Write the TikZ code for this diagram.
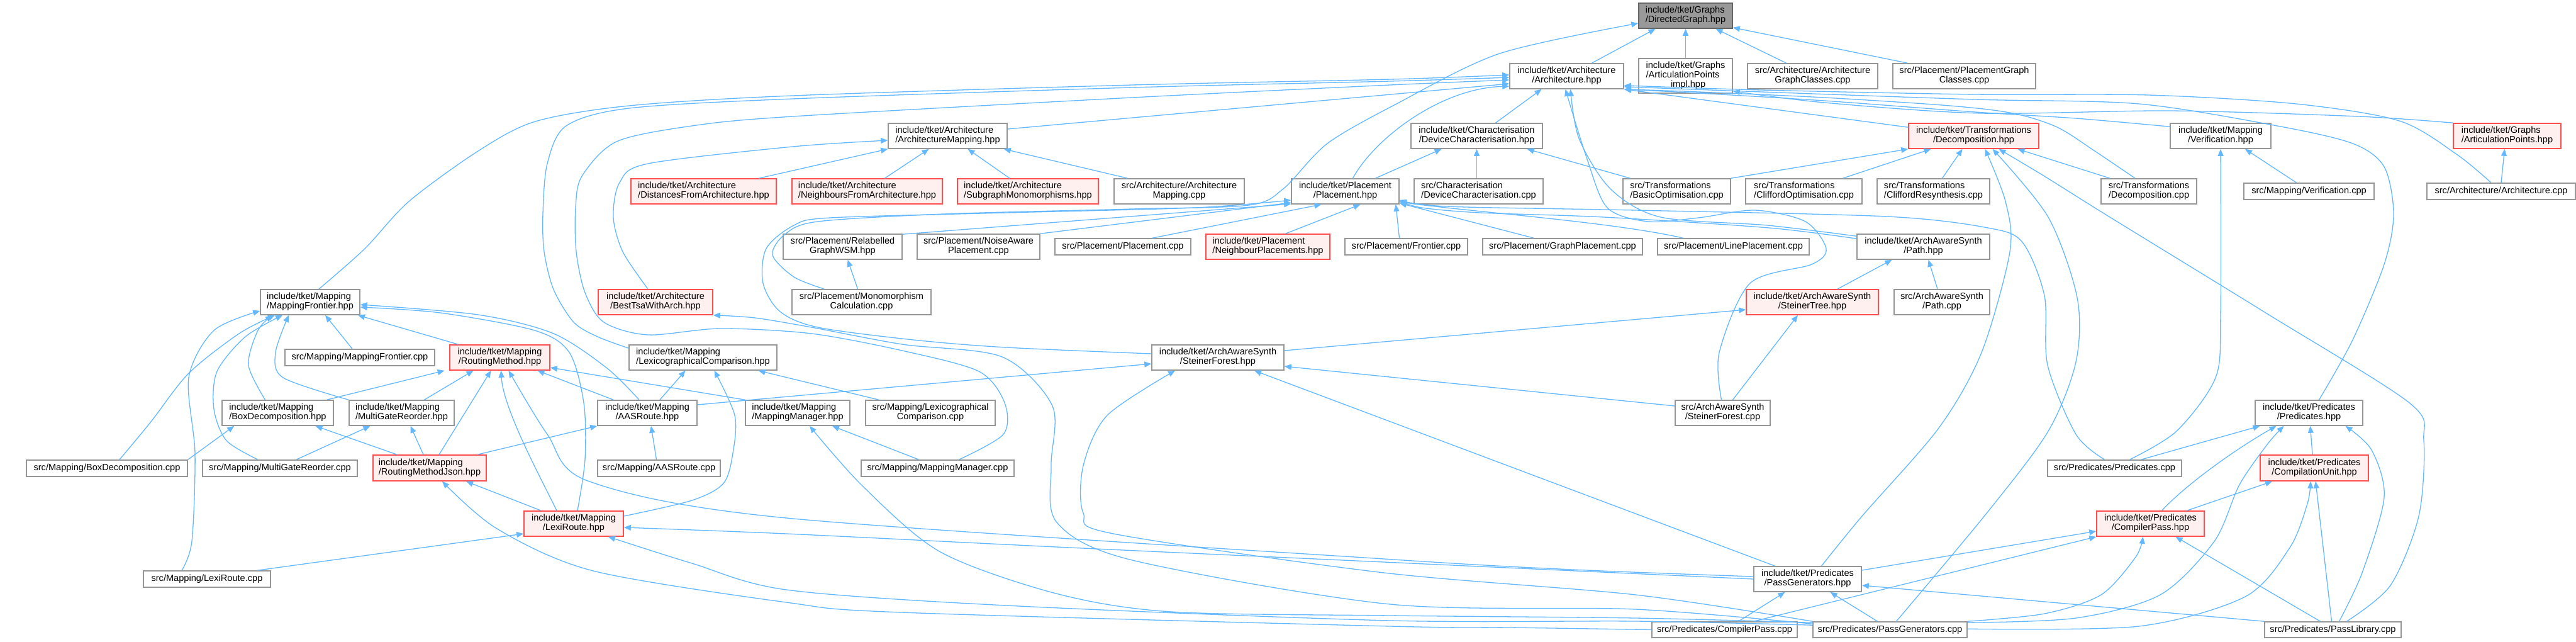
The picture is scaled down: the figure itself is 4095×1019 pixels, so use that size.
\documentclass[tikz,border=0pt]{standalone}
\usepackage{fontspec}
\setmainfont{Liberation Sans}
\usetikzlibrary{arrows.meta}
\definecolor{edgeblue}{RGB}{99,184,255}
\definecolor{nodegray}{RGB}{150,150,150}
\definecolor{nodered}{RGB}{255,76,76}
\definecolor{nodepink}{RGB}{255,240,240}
\definecolor{rootfill}{RGB}{153,153,153}
\definecolor{rootborder}{RGB}{102,102,102}
\newcommand\twol[2]{\begin{tabular}{@{}l@{}}#1\\\multicolumn{1}{@{}c@{}}{#2}\end{tabular}}
\newcommand\threel[3]{\begin{tabular}{@{}l@{}}#1\\#2\\\multicolumn{1}{@{}c@{}}{#3}\end{tabular}}
\newcommand\nodebox[7]{\node[#2, minimum width={(#5-#3)*0.5pt}, minimum height={(#6-#4)*0.5pt}] (#1) at ({(#3+#5)/2},{(#4+#6)/2}) {#7};}
\tikzset{
  nb/.style={draw=nodegray, line width=0.8pt, fill=white, inner sep=0pt, font=\fontsize{7.3}{7.35}\selectfont, text=black},
  nr/.style={nb, draw=nodered, fill=nodepink},
  nroot/.style={nb, draw=rootborder, fill=rootfill},
  edg/.style={draw=edgeblue, line width=0.65pt, -{Triangle[length=5.5pt,width=4.5pt]}},
}
\begin{document}
\begin{tikzpicture}[x=0.5pt,y=-0.5pt]
\fill[white] (0,0) rectangle (4095,1019);
\useasboundingbox (0,0) rectangle (4095,1019);
% ---------- nodes ----------
\nodebox{DG}{nroot}{2605}{5}{2754}{45}{\twol{include/tket/Graphs}{/DirectedGraph.hpp}}
\nodebox{Arch}{nb}{2400}{101}{2581}{141}{\twol{include/tket/Architecture}{/Architecture.hpp}}
\nodebox{APimpl}{nb}{2605}{93}{2754}{148}{\threel{include/tket/Graphs}{/ArticulationPoints}{\_impl.hpp}}
\nodebox{AGC}{nb}{2778}{101}{2985}{141}{\twol{src/Architecture/Architecture}{GraphClasses.cpp}}
\nodebox{PGC}{nb}{3009}{101}{3236}{141}{\twol{src/Placement/PlacementGraph}{Classes.cpp}}
\nodebox{ArchMap}{nb}{1412}{196}{1601}{236}{\twol{include/tket/Architecture}{/ArchitectureMapping.hpp}}
\nodebox{DevChar}{nb}{2243}{196}{2452}{236}{\twol{include/tket/Characterisation}{/DeviceCharacterisation.hpp}}
\nodebox{Decomp}{nr}{3034}{196}{3241}{236}{\twol{include/tket/Transformations}{/Decomposition.hpp}}
\nodebox{VerifH}{nb}{3450}{196}{3610}{236}{\twol{include/tket/Mapping}{/Verification.hpp}}
\nodebox{ArtP}{nr}{3900}{196}{4071}{236}{\twol{include/tket/Graphs}{/ArticulationPoints.hpp}}
\nodebox{Dist}{nr}{1003}{284}{1234}{324}{\twol{include/tket/Architecture}{/DistancesFromArchitecture.hpp}}
\nodebox{Neigh}{nr}{1259}{284}{1498}{324}{\twol{include/tket/Architecture}{/NeighboursFromArchitecture.hpp}}
\nodebox{Subg}{nr}{1522}{284}{1746}{324}{\twol{include/tket/Architecture}{/SubgraphMonomorphisms.hpp}}
\nodebox{ArchMapCpp}{nb}{1771}{284}{1978}{324}{\twol{src/Architecture/Architecture}{Mapping.cpp}}
\nodebox{Place}{nb}{2053}{284}{2224}{324}{\twol{include/tket/Placement}{/Placement.hpp}}
\nodebox{DevCharCpp}{nb}{2248}{284}{2453}{324}{\twol{src/Characterisation}{/DeviceCharacterisation.cpp}}
\nodebox{BasicOpt}{nb}{2580}{284}{2751}{324}{\twol{src/Transformations}{/BasicOptimisation.cpp}}
\nodebox{CliffOpt}{nb}{2775}{284}{2960}{324}{\twol{src/Transformations}{/CliffordOptimisation.cpp}}
\nodebox{CliffRes}{nb}{2984}{284}{3163}{324}{\twol{src/Transformations}{/CliffordResynthesis.cpp}}
\nodebox{DecompCpp}{nb}{3340}{284}{3492}{324}{\twol{src/Transformations}{/Decomposition.cpp}}
\nodebox{VerifCpp}{nb}{3567}{291}{3774}{317}{src/Mapping/Verification.cpp}
\nodebox{ArchCpp}{nb}{3858}{291}{4094}{317}{src/Architecture/Architecture.cpp}
\nodebox{Relab}{nb}{1245}{372}{1434}{412}{\twol{src/Placement/Relabelled}{GraphWSM.hpp}}
\nodebox{Noise}{nb}{1458}{372}{1653}{412}{\twol{src/Placement/NoiseAware}{Placement.cpp}}
\nodebox{PlaceCpp}{nb}{1677}{379}{1893}{405}{src/Placement/Placement.cpp}
\nodebox{NeighP}{nr}{1917}{372}{2114}{412}{\twol{include/tket/Placement}{/NeighbourPlacements.hpp}}
\nodebox{Frontier}{nb}{2138}{379}{2333}{405}{src/Placement/Frontier.cpp}
\nodebox{GraphP}{nb}{2357}{379}{2611}{405}{src/Placement/GraphPlacement.cpp}
\nodebox{LineP}{nb}{2635}{379}{2876}{405}{src/Placement/LinePlacement.cpp}
\nodebox{PathH}{nb}{2952}{372}{3163}{412}{\twol{include/tket/ArchAwareSynth}{/Path.hpp}}
\nodebox{MF}{nb}{414}{460}{572}{500}{\twol{include/tket/Mapping}{/MappingFrontier.hpp}}
\nodebox{BestTsa}{nr}{951}{460}{1133}{500}{\twol{include/tket/Architecture}{/BestTsaWithArch.hpp}}
\nodebox{Mono}{nb}{1259}{460}{1480}{500}{\twol{src/Placement/Monomorphism}{Calculation.cpp}}
\nodebox{STree}{nr}{2776}{460}{2986}{500}{\twol{include/tket/ArchAwareSynth}{/SteinerTree.hpp}}
\nodebox{PathCpp}{nb}{3011}{460}{3163}{500}{\twol{src/ArchAwareSynth}{/Path.cpp}}
\nodebox{MFCpp}{nb}{453}{555}{691}{581}{src/Mapping/MappingFrontier.cpp}
\nodebox{RM}{nr}{715}{548}{874}{588}{\twol{include/tket/Mapping}{/RoutingMethod.hpp}}
\nodebox{LexC}{nb}{1000}{548}{1235}{588}{\twol{include/tket/Mapping}{/LexicographicalComparison.hpp}}
\nodebox{SForest}{nb}{1831}{548}{2041}{588}{\twol{include/tket/ArchAwareSynth}{/SteinerForest.hpp}}
\nodebox{BoxD}{nb}{353}{636}{530}{676}{\twol{include/tket/Mapping}{/BoxDecomposition.hpp}}
\nodebox{MGR}{nb}{555}{636}{722}{676}{\twol{include/tket/Mapping}{/MultiGateReorder.hpp}}
\nodebox{AAS}{nb}{950}{636}{1108}{676}{\twol{include/tket/Mapping}{/AASRoute.hpp}}
\nodebox{MM}{nb}{1185}{636}{1351}{676}{\twol{include/tket/Mapping}{/MappingManager.hpp}}
\nodebox{LexCCpp}{nb}{1376}{636}{1582}{676}{\twol{src/Mapping/Lexicographical}{Comparison.cpp}}
\nodebox{SForestCpp}{nb}{2663}{636}{2814}{676}{\twol{src/ArchAwareSynth}{/SteinerForest.cpp}}
\nodebox{PredH}{nb}{3585}{636}{3756}{676}{\twol{include/tket/Predicates}{/Predicates.hpp}}
\nodebox{BoxDCpp}{nb}{42}{731}{298}{757}{src/Mapping/BoxDecomposition.cpp}
\nodebox{MGRCpp}{nb}{322}{731}{568}{757}{src/Mapping/MultiGateReorder.cpp}
\nodebox{RMJ}{nr}{593}{723}{773}{764}{\twol{include/tket/Mapping}{/RoutingMethodJson.hpp}}
\nodebox{AASCpp}{nb}{950}{731}{1145}{757}{src/Mapping/AASRoute.cpp}
\nodebox{MMCpp}{nb}{1369}{731}{1612}{757}{src/Mapping/MappingManager.cpp}
\nodebox{PredCpp}{nb}{3255}{731}{3468}{757}{src/Predicates/Predicates.cpp}
\nodebox{CU}{nr}{3593}{723}{3765}{764}{\twol{include/tket/Predicates}{/CompilationUnit.hpp}}
\nodebox{LR}{nr}{833}{812}{991}{852}{\twol{include/tket/Mapping}{/LexiRoute.hpp}}
\nodebox{CPH}{nr}{3333}{812}{3504}{852}{\twol{include/tket/Predicates}{/CompilerPass.hpp}}
\nodebox{PGH}{nb}{2788}{900}{2959}{940}{\twol{include/tket/Predicates}{/PassGenerators.hpp}}
\nodebox{LRCpp}{nb}{228}{907}{430}{933}{src/Mapping/LexiRoute.cpp}
\nodebox{CPCpp}{nb}{2626}{988}{2857}{1013}{src/Predicates/CompilerPass.cpp}
\nodebox{PGCpp}{nb}{2882}{988}{3127}{1013}{src/Predicates/PassGenerators.cpp}
\nodebox{PLCpp}{nb}{3600}{988}{3817}{1013}{src/Predicates/PassLibrary.cpp}
% ---------- edges: level 0/1 ----------
\draw[edg] ([xshift=20pt]Arch.north) -- ([xshift=-24pt]DG.south);
\draw[edg] (APimpl.north) -- (DG.south);
\draw[edg] ([xshift=-21pt]AGC.north) -- ([xshift=24pt]DG.south);
\draw[edg] ([xshift=12pt]PGC.north west) -- ([yshift=1pt]DG.south east);
\draw[edg] plot[smooth] coordinates {([xshift=26pt]Mono.north west) (1262,440) (1228,405) (1248,372) (1300,352) (1500,340) (1800,332) (1985,326) (2040,300) (2110,228) (2220,165) (2384,85) ([yshift=-6pt]DG.west)};
% into Architecture.hpp
\draw[edg] ([yshift=5.5pt]ArchMap.east) -- ([yshift=-6pt]Arch.west);
\draw[edg] ([xshift=15pt]DevChar.north) -- ([xshift=-20pt]Arch.south);
\draw[edg] ([yshift=-3.5pt]Decomp.north west) -- (Arch.south east);
\draw[edg] ([xshift=6pt]Place.north) .. controls (2185,220) and (2290,140) .. ([yshift=-8pt]Arch.west);
\draw[edg] plot[smooth] coordinates {([xshift=7pt]MF.north) (580,395) (650,320) (760,240) (851,193) (1000,168) (1260,152) (1800,135) (2210,126) ([yshift=1pt]Arch.west)};
\draw[edg] plot[smooth] coordinates {([yshift=-3pt]LexC.north west) (950,535) (912,512) (880,460) (865,400) (863,340) (870,260) (900,200) (1000,172) (1260,157) (1800,139) (2210,129) ([yshift=-1pt]Arch.west)};
\draw[edg] plot[smooth] coordinates {([xshift=17pt]MMCpp.north) (1595,690) (1597,640) (1556,590) (1434,557) (1290,530) (1145,522) (1030,532) (960,512) (930,465) (916,400) (915,330) (925,280) (980,225) (1100,200) (1260,185) (1800,155) (2210,135) ([yshift=-3pt]Arch.west)};
\draw[edg] plot[smooth] coordinates {([xshift=8pt]PredH.north) (3740,540) (3790,420) (3805,340) (3790,265) (3740,228) (3620,200) (3400,165) (3140,158) (2800,146) ([yshift=2pt]Arch.south east)};
\draw[edg] plot[smooth] coordinates {([xshift=-8pt]ArchCpp.north) (3905,245) (3814,192) (3650,165) (3415,151) (3140,150) (2800,143) ([yshift=3pt]Arch.south east)};
\draw[edg] plot[smooth] coordinates {([yshift=-3pt]VerifH.north west) (3300,188) (3140,178) (2900,160) (2700,148) (Arch.south east)};
\draw[edg] plot[smooth] coordinates {([xshift=-11pt]DecompCpp.north) (3330,240) (3270,202) (3200,180) (3100,168) (2900,155) (2700,146) (Arch.south east)};
\draw[edg] plot[smooth] coordinates {([yshift=-2pt]PathH.north west) (2810,358) (2640,345) (2560,300) (2510,220) ([xshift=3pt]Arch.south)};
\draw[edg] plot[smooth] coordinates {([xshift=-1pt]SForestCpp.north) (2733,560) (2782,450) (2880,420) (2903,395) (2870,352) (2790,334) (2700,346) (2620,352) (2555,330) (2522,250) ([xshift=-1pt]Arch.south)};
% ArticulationPoints
\draw[edg] plot[smooth] coordinates {(ArtP.north west) (3750,185) (3450,176) (3150,180) (2900,163) ([yshift=2pt]APimpl.south east)};
\draw[edg] (ArchCpp.north) -- ([xshift=-2pt]ArtP.south);
% ArchitectureMapping
\draw[edg] ([xshift=44pt]Dist.north) -- (ArchMap.south west);
\draw[edg] ([xshift=14pt]Neigh.north) -- ([xshift=-15pt]ArchMap.south);
\draw[edg] ([xshift=-14.5pt]Subg.north) -- ([xshift=16pt]ArchMap.south);
\draw[edg] ([xshift=-41pt]ArchMapCpp.north) -- ([xshift=-3pt]ArchMap.south east);
\draw[edg] plot[smooth] coordinates {([xshift=-6pt]BestTsa.north) (990,400) (975,345) (985,290) (1030,260) (1260,233) ([yshift=-3.5pt]ArchMap.west)};
% Device characterisation / Decomposition
\draw[edg] ([xshift=-1.5pt]DevCharCpp.north) -- (DevChar.south);
\draw[edg] ([xshift=-37pt]BasicOpt.north) -- ([xshift=40pt]DevChar.south);
\draw[edg] ([xshift=24pt]Place.north) -- ([xshift=-28pt]DevChar.south);
\draw[edg] (BasicOpt.north east) -- (Decomp.south west);
\draw[edg] ([xshift=31pt]CliffOpt.north) -- ([xshift=-34pt]Decomp.south);
\draw[edg] ([xshift=7pt]CliffRes.north) -- ([xshift=-9pt]Decomp.south);
\draw[edg] ([xshift=-31pt]DecompCpp.north) -- ([xshift=35pt]Decomp.south);
\draw[edg] ([xshift=-10pt]VerifCpp.north) -- ([xshift=19.5pt]VerifH.south);
% Placement
\draw[edg] ([yshift=-0.5pt]Relab.north east) -- ([yshift=-10pt]Place.west);
\draw[edg] (Noise.north east) -- ([yshift=-9pt]Place.west);
\draw[edg] ([xshift=23.5pt]PlaceCpp.north) -- ([xshift=-19pt]Place.south);
\draw[edg] ([xshift=14pt]NeighP.north) -- ([xshift=12pt]Place.south);
\draw[edg] ([xshift=-5.5pt]Frontier.north) -- ([xshift=-3pt]Place.south east);
\draw[edg] ([xshift=-23pt]GraphP.north) -- ([yshift=1pt]Place.south east);
\draw[edg] ([xshift=-40pt]LineP.north) .. controls (2560,352) and (2341,337) .. ([yshift=2pt]Place.south east);
\draw[edg] plot[smooth] coordinates {([yshift=-4pt]PathH.north west) (2812,362) (2550,345) (2353,338) (2260,330) ([yshift=3pt]Place.south east)};
\draw[edg] plot[smooth] coordinates {([xshift=-8pt]PredCpp.north) (3300,690) (3255,580) (3250,470) (3215,385) (3160,362) (3000,344) (2600,334) (2300,328) ([yshift=3.5pt]Place.south east)};
\draw[edg] plot[smooth] coordinates {([yshift=3pt]SForest.west) (1600,552) (1452,540) (1300,520) (1240,495) (1213,450) (1218,395) (1262,358) (1320,346) (1600,338) (1900,330) ([yshift=-7pt]Place.west)};
\draw[edg] ([xshift=-3pt]Mono.north) -- ([xshift=4pt]Relab.south);
% ArchAwareSynth
\draw[edg] ([xshift=20pt]STree.north) -- ([xshift=-25pt]PathH.south);
\draw[edg] ([xshift=-3.5pt]PathCpp.north) -- ([xshift=4pt]PathH.south);
\draw[edg] ([yshift=5.5pt]SForest.east) -- ([yshift=-6pt]STree.west);
\draw[edg] ([xshift=8pt]SForestCpp.north) -- ([xshift=-11.5pt]STree.south);
\draw[edg] ([yshift=5.5pt]SForestCpp.west) -- ([yshift=-7pt]SForest.east);
% Mapping
\draw[edg] ([xshift=-6pt]MFCpp.north) -- ([xshift=12pt]MF.south);
\draw[edg] ([xshift=-33pt]RM.north) -- ([xshift=38pt]MF.south);
\draw[edg] plot[smooth] coordinates {([xshift=-10pt]BoxD.north) (395,580) (410,525) ([xshift=-30pt]MF.south)};
\draw[edg] plot[smooth] coordinates {(MGR.north west) (450,600) (438,560) ([xshift=-17pt]MF.south)};
\draw[edg] plot[smooth] coordinates {([xshift=-6.5pt]AAS.north) (965,585) (880,530) (760,500) ([yshift=-2pt]MF.east)};
\draw[edg] plot[smooth] coordinates {([xshift=3pt]LR.north) (930,730) (928,640) (905,560) (850,525) (700,497) ([yshift=-4pt]MF.east)};
\draw[edg] plot[smooth] coordinates {([xshift=-17.5pt]MGRCpp.north) (360,700) (340,650) (345,590) (390,535) ([xshift=-22pt]MF.south)};
\draw[edg] plot[smooth] coordinates {([xshift=10pt]BoxDCpp.north) (240,670) (300,593) (380,530) ([xshift=-28pt]MF.south)};
\draw[edg] plot[smooth] coordinates {([xshift=-20pt]LRCpp.north) (305,860) (310,720) (300,600) (340,525) ([yshift=-7pt]MF.west)};
\draw[edg] ([xshift=39pt]BoxD.north) -- ([xshift=-44pt]RM.south);
\draw[edg] ([xshift=18pt]MGR.north) -- ([xshift=-21pt]RM.south);
\draw[edg] ([xshift=-27pt]AAS.north) -- ([xshift=30pt]RM.south);
\draw[edg] (MM.north west) -- ([yshift=-8pt]RM.east);
\draw[edg] ([xshift=10pt]AAS.north) -- ([xshift=-14pt]LexC.south);
\draw[edg] ([yshift=6.5pt]AAS.east) -- ([yshift=-5pt]SForest.west);
\draw[edg] ([xshift=-2pt]AASCpp.north) -- ([xshift=3pt]AAS.south);
\draw[edg] ([xshift=-15pt]MMCpp.north) -- ([xshift=27.5pt]MM.south);
\draw[edg] ([xshift=-41pt]LexCCpp.north) -- ([xshift=44pt]LexC.south);
\draw[edg] ([xshift=-26pt]RMJ.north) -- ([xshift=30pt]BoxD.south);
\draw[edg] ([xshift=-5pt]RMJ.north) -- ([xshift=7pt]MGR.south);
\draw[edg] ([xshift=7.5pt]RMJ.north) -- ([xshift=-7pt]RM.south);
\draw[edg] ([xshift=38pt]RMJ.north) -- (AAS.south west);
\draw[edg] ([xshift=13pt]MGRCpp.north) -- ([xshift=-25pt]MGR.south);
\draw[edg] (BoxDCpp.north east) -- ([xshift=10pt]BoxD.south west);
\draw[edg] ([xshift=-26pt]LR.north) -- ([xshift=29pt]RMJ.south);
\draw[edg] ([xshift=-13.5pt]LR.north) .. controls (860,760) and (800,650) .. ([xshift=1pt]RM.south);
\draw[edg] plot[smooth] coordinates {([yshift=6pt]LR.east) (1100,795) (1150,768) (1165,720) (1168,660) ([xshift=9pt]LexC.south)};
\draw[edg] ([xshift=40pt]LRCpp.north) -- ([yshift=-8pt]LR.west);
% Predicates
\draw[edg] ([xshift=-26pt]PGH.north) -- ([xshift=29pt]SForest.south);
\draw[edg] plot[smooth] coordinates {([xshift=11pt]PGH.north) (2960,820) (3082,680) (3150,560) (3195,400) (3188,320) ([xshift=9pt]Decomp.south)};
\draw[edg] plot[smooth] coordinates {([yshift=2pt]PGH.west) (2500,905) (2200,888) (1250,823) (937,765) (870,690) ([xshift=7pt]RM.south)};
\draw[edg] plot[smooth] coordinates {(PGH.west) (2200,893) (1700,870) (1250,848) ([yshift=-3pt]LR.east)};
\draw[edg] ([yshift=7pt]PGH.east) -- ([yshift=-6pt]CPH.west);
\draw[edg] ([xshift=11pt]CPCpp.north) -- ([xshift=-18pt]PGH.south);
\draw[edg] ([xshift=23pt]CPCpp.north) -- (CPH.south west);
\draw[edg] ([xshift=-10pt]PGCpp.north) -- ([xshift=18pt]PGH.south);
\draw[edg] (PLCpp.north west) -- ([yshift=-5pt]PGH.east);
\draw[edg] plot[smooth] coordinates {(CPCpp.west) (2400,997) (2210,995) (1434,973) (1250,957) (943,907) (790,840) ([xshift=10pt]RMJ.south)};
\draw[edg] plot[smooth] coordinates {(PGCpp.north west) (2600,945) (2200,910) (1770,848) (1722,815) (1722,740) (1760,660) ([xshift=-34pt]SForest.south)};
\draw[edg] plot[smooth] coordinates {([yshift=-2pt]PGCpp.north west) (2600,968) (2210,960) (1800,890) (1680,830) (1671,740) (1673,645) (1593,567) (1434,547) (1290,520) (1200,505) (BestTsa.south east)};
\draw[edg] plot[smooth] coordinates {([yshift=-1pt]PGCpp.north west) (2600,982) (2210,978) (1862,972) (1679,943) (1495,877) (1372,773) ([xshift=9.5pt]MM.south)};
\draw[edg] plot[smooth] coordinates {([yshift=-3pt]PGCpp.north west) (2600,987) (2210,986) (1600,962) (1250,937) (1100,895) ([xshift=27.5pt]LR.south)};
\draw[edg] plot[smooth] coordinates {([xshift=5pt]PGCpp.north) (3160,813) (3256,685) (3300,575) (3302,473) (3256,345) ([xshift=15pt]Decomp.south)};
\draw[edg] plot[smooth] coordinates {(PGCpp.north east) (3250,975) (3340,945) (3395,885) ([xshift=-6pt]CPH.south)};
\draw[edg] plot[smooth] coordinates {([yshift=-1pt]PGCpp.north east) (3300,982) (3434,945) (3520,860) (3560,770) (3605,705) ([xshift=-20pt]PredH.south)};
\draw[edg] plot[smooth] coordinates {([yshift=-6pt]PGCpp.north east) (3400,995) (3569,948) (3640,870) (3668,800) ([xshift=-3pt]CU.south)};
\draw[edg] ([xshift=29pt]CPH.north) -- ([xshift=-33.5pt]CU.south);
\draw[edg] ([xshift=9pt]CPH.north) .. controls (3480,765) and (3560,710) .. ([xshift=-26pt]PredH.south);
\draw[edg] ([xshift=-1.5pt]CU.north) -- ([xshift=1pt]PredH.south);
\draw[edg] ([xshift=21pt]PredCpp.north) -- ([xshift=-39pt]PredH.south);
\draw[edg] plot[smooth] coordinates {([xshift=12pt]PredCpp.north) (3460,685) (3522,600) (3530,500) (VerifH.south)};
\draw[edg] ([xshift=-1pt]PLCpp.north) -- ([xshift=1pt]CU.south);
\draw[edg] ([xshift=-10pt]PLCpp.north) -- ([xshift=20pt]CPH.south);
\draw[edg] plot[smooth] coordinates {([xshift=5pt]PLCpp.north) (3755,910) (3790,790) (3770,715) ([xshift=29pt]PredH.south)};
\draw[edg] plot[smooth] coordinates {([xshift=11pt]PLCpp.north) (3800,930) (3845,820) (3853,700) (3830,640) (3600,496) (3354,345) (3250,280) ([xshift=20pt]Decomp.south)};
\end{tikzpicture}
\end{document}
